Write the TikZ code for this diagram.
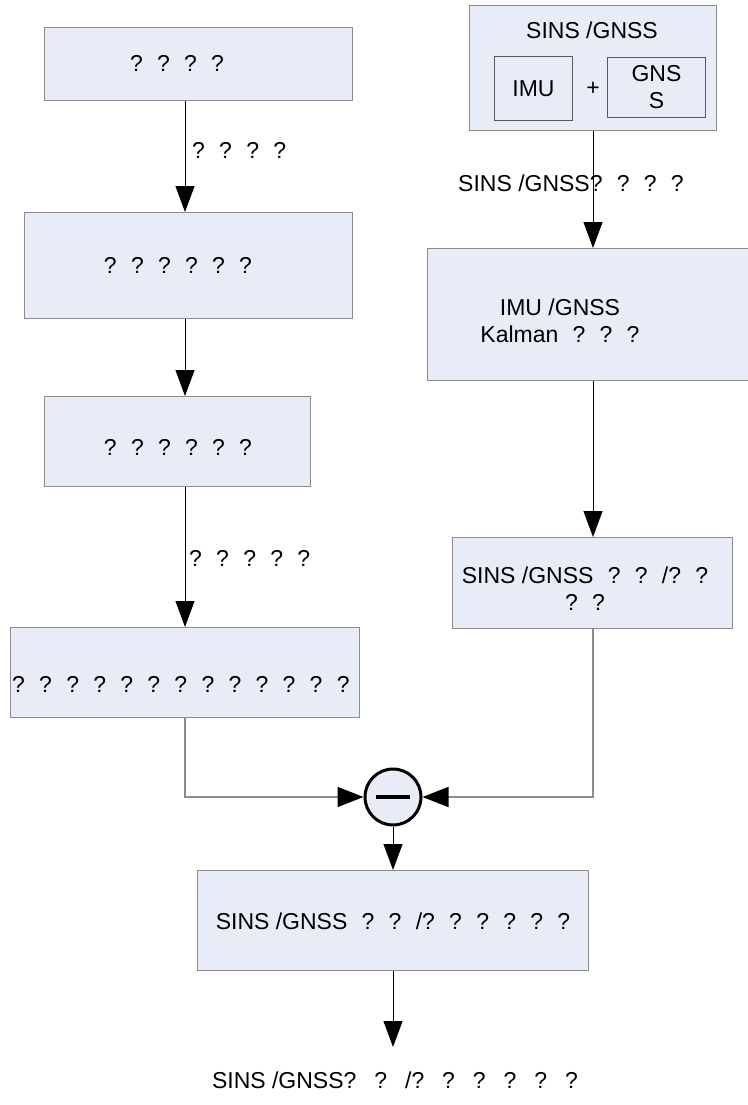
\documentclass[tikz,border=0pt]{standalone}
\usepackage{fontspec}
\setmainfont{Liberation Sans}
\usetikzlibrary{arrows.meta}
\definecolor{boxfill}{HTML}{E8ECF6}
\definecolor{boxline}{HTML}{8C8C8C}
% spacing between the question marks
\newcommand{\qg}{\hspace{0.62em}}
\newcommand{\qw}{\hspace{0.78em}}
\begin{document}
\begin{tikzpicture}[x=1pt,y=-1pt,
  every node/.style={font=\fontsize{23}{27}\selectfont, inner sep=0pt},
  box/.style={draw=boxline, line width=1.4pt, fill=boxfill, rectangle, anchor=north west},
  inbox/.style={draw=black!65, line width=0.9pt, fill=boxfill, rectangle, anchor=north west},
  txt/.style={anchor=center, align=center},
  arr/.style={line width=1pt, -{Triangle[width=19pt,length=26pt]}},
  feed/.style={draw=boxline, line width=1.4pt, -{Triangle[width=20pt,length=26pt,color=black]}}
]
\useasboundingbox (0,0) rectangle (747,1105);

% column guides for the vertical connectors
\coordinate (colL) at (185,0);
\coordinate (colR) at (593,0);
\coordinate (colM) at (393,0);

% left column
\node[box, minimum width=308pt, minimum height=73pt] (b1) at (44,27) {};
\node[txt] (t1) at (177,63) {?\qg?\qg?\qg?};
\node[box, minimum width=328pt, minimum height=106pt] (b2) at (24,212) {};
\node[txt] (t2) at (178,265) {?\qg?\qg?\qg?\qg?\qg?};
\node[box, minimum width=266pt, minimum height=90pt] (b3) at (44,396) {};
\node[txt] (t3) at (178,447) {?\qg?\qg?\qg?\qg?\qg?};
\node[box, minimum width=349pt, minimum height=90pt] (b4) at (10,627) {};
\node[anchor=west] (t4) at (12,684) {?\qg?\qg?\qg?\qg?\qg?\qg?\qg?\qg?\qg?\qg?\qg?\qg?};

% right column
\node[box, minimum width=247pt, minimum height=125pt] (b5) at (469,5) {};
\node[txt] (t5) at (592,30) {SINS /GNSS};
\node[inbox, minimum width=78pt, minimum height=64pt] (imu) at (494,56) {};
\node[txt] at (imu.center) {IMU};
\node[txt] (plus) at (593,89) {+};
\node[inbox, minimum width=98pt, minimum height=60pt] (gnss) at (607,57) {};
\node[txt] at (gnss.center) {GNS\\S};
\node[box, minimum width=322pt, minimum height=132pt] (b6) at (427,248) {};
\node[txt] (t6) at (560,321) {IMU /GNSS\\Kalman\qg?\qg?\qg?};
\node[box, minimum width=280pt, minimum height=91pt] (b8) at (452,537) {};
\node[txt] (t8) at (585,589) {SINS /GNSS\qg?\qg?\qg/?\qg?\\?\qg?};

% bottom
\node[draw=black, line width=3pt, fill=boxfill, circle, minimum size=56pt] (sub) at (393,797) {};
\draw[line width=3.5pt] ([xshift=-17pt]sub.center) -- ([xshift=17pt]sub.center);
\node[box, minimum width=391pt, minimum height=100pt] (b7) at (197,870) {};
\node[txt] (t7) at (393,921) {SINS /GNSS\qg?\qg?\qg/?\qg?\qg?\qg?\qg?\qg?};
\coordinate (outp) at (393,1047);
\node[txt] (t9) at (395,1080) {SINS /GNSS?\qw?\qw/?\qw?\qw?\qw?\qw?\qw?};

% edge labels
\node[anchor=west] (l1) at (192,150) {?\qg?\qg?\qg?};
\node[anchor=west] (l2) at (458,183) {SINS /GNSS?\qg?\qg?\qg?};
\node[anchor=west] (l3) at (189,558) {?\qg?\qg?\qg?\qg?};

% connectors
\draw[arr] (b1.south -| colL) -- (b2.north -| colL);
\draw[arr] (b2.south -| colL) -- (b3.north -| colL);
\draw[arr] (b3.south -| colL) -- (b4.north -| colL);
\draw[arr] (b5.south -| colR) -- (b6.north -| colR);
\draw[arr] (b6.south -| colR) -- (b8.north -| colR);
\draw[feed] (b4.south -| colL) |- (sub.west);
\draw[feed] (b8.south -| colR) |- (sub.east);
\draw[arr] (sub.south) -- (b7.north -| colM);
\draw[arr] (b7.south -| colM) -- (outp);
\end{tikzpicture}
\end{document}
